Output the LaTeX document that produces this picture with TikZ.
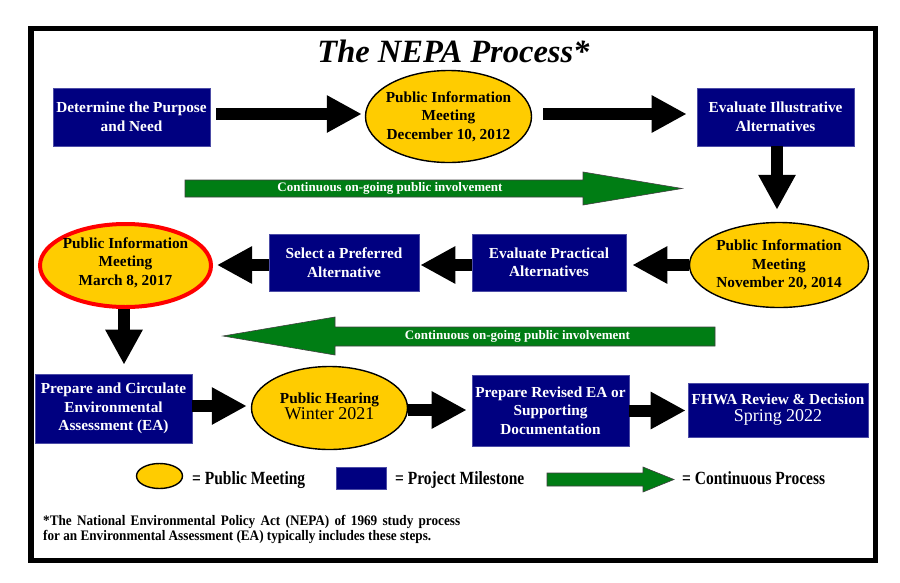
\documentclass[tikz,border=0pt]{standalone}
\usepackage{fontspec}
\setmainfont{Liberation Serif}
\usetikzlibrary{arrows.meta,shapes.geometric}
\definecolor{navy}{RGB}{0,0,128}
\definecolor{gold}{RGB}{255,204,0}
\definecolor{grn}{RGB}{0,125,20}
\begin{document}
\begin{tikzpicture}[x=1pt,y=-1pt,
 mile/.style={rectangle, fill=navy, draw=navy!70!white, line width=0.6pt, text=white,
   font=\fontsize{15.3}{18.5}\selectfont\bfseries, align=center, inner sep=0pt},
 pm/.style={ellipse, fill=gold, draw=black, line width=1.4pt, inner sep=0pt},
 pmtext/.style={font=\fontsize{15.3}{18.5}\selectfont\bfseries, align=center, inner sep=0pt},
 blk/.style={draw=black, line width=12pt, -{Triangle[length=35pt,width=35pt]}},
 garrow/.style={fill=grn, draw=black!75, line width=0.6pt},
 gtext/.style={text=white, font=\fontsize{13}{13}\selectfont\bfseries, inner sep=0pt},
 legtext/.style={anchor=base west, font=\fontsize{15.5}{16}\selectfont\bfseries, inner sep=0pt},
 fntext/.style={anchor=base west, font=\fontsize{13.2}{14}\selectfont\bfseries, inner sep=0pt}
]
\useasboundingbox (0,0) rectangle (900,582);
\fill[white] (0,0) rectangle (900,582);
% frame
\draw[line width=5.5pt] (31,28.5) rectangle (875.5,560.5);
% title
\node[font=\fontsize{32.5}{33}\selectfont\bfseries\itshape, anchor=base, inner sep=0pt] (title) at (453.5,62) {The NEPA Process*};

% row 1
\node[mile, minimum width=157pt, minimum height=58pt] (pn) at (131.5,117) {Determine the Purpose\\and Need};
\node[pm, minimum width=166pt, minimum height=92pt] (e1) at (448.5,116.5) {};
\node[pmtext] (e1t) at (e1.center) {Public Information\\Meeting\\December 10, 2012};
\node[mile, minimum width=157pt, minimum height=58pt] (ia) at (775.5,117) {Evaluate Illustrative\\Alternatives};

% row 2
\node[pm, minimum width=179pt, minimum height=85pt] (e2) at (779,265) {};
\node[pmtext] (e2t) at (e2.center) {Public Information\\Meeting\\November 20, 2014};
\node[mile, minimum width=154pt, minimum height=57pt] (epa) at (549,262.5) {Evaluate Practical\\Alternatives};
\node[mile, minimum width=150pt, minimum height=57pt] (spa) at (344,262.5) {Select a Preferred\\Alternative};
\node[pm, draw=red, line width=4pt, minimum width=171pt, minimum height=83pt] (e3) at (125.5,265.5) {};
\node[pmtext] (e3t) at ([yshift=3pt]e3.center) {Public Information\\Meeting\\March 8, 2017};

% row 3
\node[mile, minimum width=157pt, minimum height=69pt] (pcea) at (113.5,408.5) {Prepare and Circulate\\Environmental\\Assessment (EA)};
\node[pm, minimum width=156pt, minimum height=83pt] (e4) at (329.5,408) {};
\node[pmtext] (e4t) at ([yshift=2pt]e4.center) {Public Hearing\\[-2.5pt]{\fontsize{18}{18}\selectfont\mdseries Winter 2021}};
\node[mile, minimum width=157pt, minimum height=71pt] (prea) at (550.5,410.5) {Prepare Revised EA or\\Supporting\\Documentation};
\node[mile, minimum width=180pt, minimum height=54pt] (fhwa) at (778,410) {FHWA Review \& Decision\\[-1.5pt]{\fontsize{18}{18}\selectfont\mdseries Spring 2022}};

% black arrows
\draw[blk, shorten <=6pt, shorten >=3pt] ([yshift=3pt]pn.east) -- ([yshift=3pt]pn.east -| e1.west);
\draw[blk, shorten <=11pt, shorten >=10pt] ([yshift=3pt]pn.east -| e1.east) -- ([yshift=3pt]pn.east -| ia.west);
\draw[blk, shorten >=12pt] ([xshift=1.5pt]ia.south) -- ([xshift=1.5pt]ia.south |- e2.north);
\draw[blk, shorten >=6pt] (e2.west) -- (e2.west -| epa.east);
\draw[blk, shorten >=1pt] (epa.west |- e2.west) -- (spa.east |- e2.west);
\draw[blk, shorten >=4pt] (spa.west |- e2.west) -- (e3.east |- e2.west);
\draw[blk, shorten >=9pt] ([xshift=-1.5pt]e3.south) -- ([xshift=-1.5pt]e3.south |- pcea.north);
\draw[blk, shorten >=4pt] ([yshift=2.5pt]pcea.east) -- ([yshift=2.5pt]pcea.east -| e4.west);
\draw[blk, shorten >=5pt] ([yshift=-2pt]e4.east) -- ([yshift=-2pt]e4.east -| prea.west);
\draw[blk, shorten >=2pt] (prea.east) -- (prea.east -| fhwa.west);

% green continuous arrows
\draw[garrow] (185,180) -- (583,180) -- (583,172) -- (682,188.5) -- (583,205) -- (583,197) -- (185,197) -- cycle;
\node[gtext] (g1t) at (390,188.5) {Continuous on-going public involvement};
\draw[garrow] (715,327) -- (335,327) -- (335,317) -- (223,336) -- (335,355) -- (335,346) -- (715,346) -- cycle;
\node[gtext] (g2t) at (517.5,336.5) {Continuous on-going public involvement};

% legend
\node[pm, minimum width=46pt, minimum height=25pt] (lgE) at (159.5,476) {};
\node[legtext] (lgEt) at (192,484) {\scalebox{1}[1.2]{= Public Meeting}};
\node[rectangle, fill=navy, draw=navy!70!white, line width=0.6pt, minimum width=50pt, minimum height=22pt, inner sep=0pt] (lgB) at (361,478) {};
\node[legtext] (lgBt) at (395,484) {\scalebox{1}[1.2]{= Project Milestone}};
\draw[garrow] (547,473) -- (643,473) -- (643,467) -- (674,479.5) -- (643,492) -- (643,486) -- (547,486) -- cycle;
\node[legtext] (lgGt) at (682,484) {\scalebox{1}[1.2]{= Continuous Process}};

% footnote
\node[fntext] (fn1) at (43,525) {\scalebox{1}[1.1]{\makebox[417pt][s]{*The National Environmental Policy Act (NEPA) of 1969 study process}}};
\node[fntext] (fn2) at (43,540) {\scalebox{1}[1.1]{for an Environmental Assessment (EA) typically includes these steps.}};
\end{tikzpicture}
\end{document}
